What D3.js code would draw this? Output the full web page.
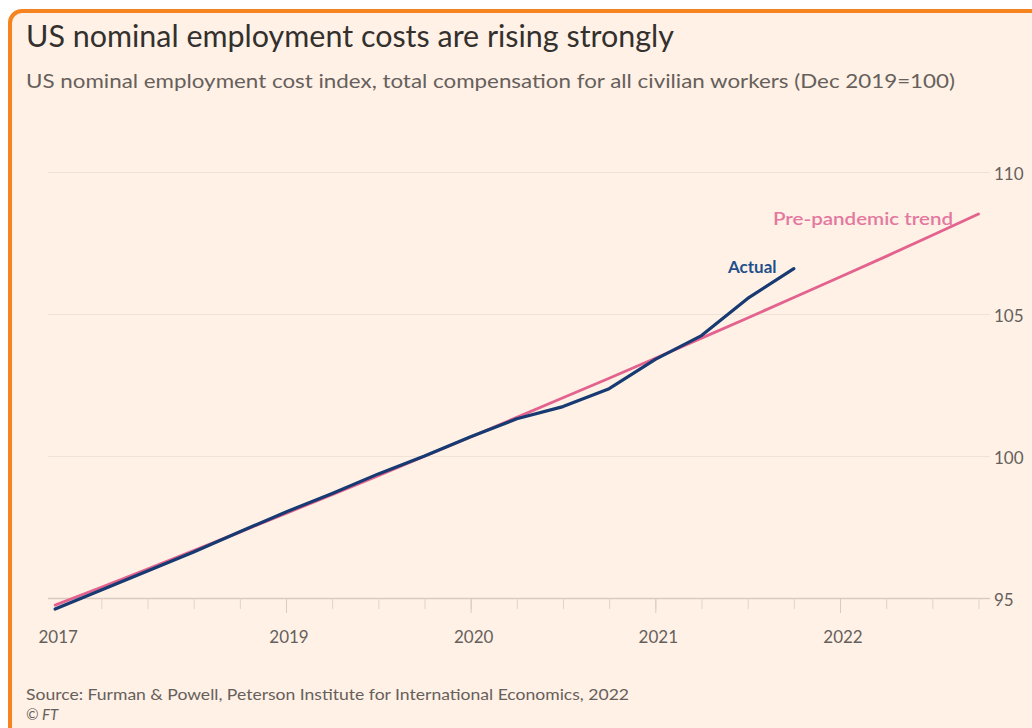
<!DOCTYPE html>
<html>
<head>
<meta charset="utf-8">
<script src="https://cdn.jsdelivr.net/npm/d3@7"></script>
<style>
  body { margin: 0; background: #fff; }
  svg { display: block; }
</style>
</head>
<body>
<div id="chart"></div>
<script>
// quarterly data, Q4 2017 .. Q4 2022 (decimal year = start of quarter)
const quarters = [2017.75, 2018, 2018.25, 2018.5, 2018.75, 2019, 2019.25, 2019.5, 2019.75,
  2020, 2020.25, 2020.5, 2020.75, 2021, 2021.25, 2021.5, 2021.75,
  2022, 2022.25, 2022.5, 2022.75];

const actual = [94.61, 95.28, 95.95, 96.62, 97.33, 98.03, 98.68, 99.37, 100.0,
  100.68, 101.31, 101.74, 102.37, 103.4, 104.24, 105.55, 106.6];

const trend = [94.75, 95.38, 96.02, 96.67, 97.32, 97.98, 98.64, 99.31, 99.99,
  100.67, 101.36, 102.05, 102.74, 103.44, 104.15, 104.86, 105.58,
  106.3, 107.03, 107.77, 108.52];

const yTicks = [95, 100, 105, 110];
const yearTicks = [2019, 2020, 2021, 2022];
const xLabelPos = [2017.75, 2019, 2020, 2021, 2022];
const xLabels = ["2017", "2019", "2020", "2021", "2022"];

const W = 1032, H = 728;
const font = "Lato, 'Open Sans', sans-serif";

const svg = d3.select("#chart").append("svg")
  .attr("width", W)
  .attr("height", H);

// card with orange outline
svg.append("rect")
  .attr("x", 10).attr("y", 11)
  .attr("width", 1060).attr("height", 760)
  .attr("rx", 12).attr("ry", 12)
  .attr("fill", "#fff1e5")
  .attr("stroke", "#f5831f")
  .attr("stroke-width", 4);

let x = d3.scaleLinear().domain([2019, 2022]).range([286, 840]);
let y = d3.scaleLinear().domain([95, 110]).range([598, 172]);

const gridLeft = 48, gridRight = 990;

// gridlines + right labels
const yAxis = svg.append("g")
  .attr("transform", "translate(" + gridRight + ",0)")
  .call(d3.axisRight(y).tickValues(yTicks).tickSize(-(gridRight - gridLeft)).tickPadding(4));
yAxis.select(".domain").remove();
yAxis.selectAll(".tick line")
  .attr("stroke", function (d) { return d === 95 ? "#d8cbbf" : "#f0e2d5"; })
  .attr("stroke-width", function (d) { return d === 95 ? 1.5 : 1; });
yAxis.selectAll(".tick text")
  .attr("fill", "#66605c")
  .attr("dy", "0.45em")
  .style("font-family", font)
  .style("font-size", "17px");

// quarterly ticks
const quarterTicks = quarters.slice(1);
const xAxis = svg.append("g")
  .attr("transform", "translate(0,598)")
  .call(d3.axisBottom(x).tickValues(quarterTicks).tickSize(11).tickFormat(""));
xAxis.select(".domain").remove();
xAxis.selectAll(".tick line").attr("stroke", "#e0d3c7");

// taller year ticks
const xAxis2 = svg.append("g")
  .attr("transform", "translate(0,598)")
  .call(d3.axisBottom(x).tickValues(yearTicks).tickSize(15).tickFormat(""));
xAxis2.select(".domain").remove();
xAxis2.selectAll(".tick line").attr("stroke", "#d8cbbf");

// year labels
svg.append("g").selectAll("text")
  .data(xLabels)
  .enter()
  .append("text")
  .attr("x", function (d, i) { return x(xLabelPos[i]) + 3; })
  .attr("y", 643)
  .attr("text-anchor", "middle")
  .attr("fill", "#66605c")
  .style("font-family", font)
  .style("font-size", "17px")
  .text(function (d) { return d; });

// lines
const line = d3.line()
  .x(function (d) { return x(d.q); })
  .y(function (d) { return y(d.v); });

svg.append("path")
  .datum(trend.map(function (v, i) { return { q: quarters[i], v: v }; }))
  .attr("fill", "none")
  .attr("stroke", "#e3628e")
  .attr("stroke-width", 2.8)
  .attr("stroke-linecap", "round")
  .attr("stroke-linejoin", "round")
  .attr("d", line);

svg.append("path")
  .datum(actual.map(function (v, i) { return { q: quarters[i], v: v }; }))
  .attr("fill", "none")
  .attr("stroke", "#173a72")
  .attr("stroke-width", 3.2)
  .attr("stroke-linecap", "round")
  .attr("stroke-linejoin", "round")
  .attr("d", line);

// line labels
svg.append("text")
  .attr("x", 728).attr("y", 273)
  .attr("fill", "#1f4f8c")
  .style("font-family", font)
  .style("font-size", "17px")
  .style("font-weight", "700")
  .text("Actual");

svg.append("text")
  .attr("x", 773).attr("y", 225)
  .attr("fill", "#e478a0")
  .attr("textLength", 180)
  .attr("lengthAdjust", "spacingAndGlyphs")
  .style("font-family", font)
  .style("font-size", "17px")
  .style("font-weight", "600")
  .text("Pre-pandemic trend");

// titles
svg.append("text")
  .attr("x", 26).attr("y", 47)
  .attr("fill", "#33302e")
  .attr("textLength", 648)
  .attr("lengthAdjust", "spacingAndGlyphs")
  .style("font-family", font)
  .style("font-size", "30px")
  .text("US nominal employment costs are rising strongly");

svg.append("text")
  .attr("x", 26).attr("y", 88)
  .attr("fill", "#66605c")
  .attr("textLength", 929)
  .attr("lengthAdjust", "spacingAndGlyphs")
  .style("font-family", font)
  .style("font-size", "19px")
  .text("US nominal employment cost index, total compensation for all civilian workers (Dec 2019=100)");

// footer
svg.append("text")
  .attr("x", 26).attr("y", 700)
  .attr("fill", "#66605c")
  .attr("textLength", 603)
  .attr("lengthAdjust", "spacingAndGlyphs")
  .style("font-family", font)
  .style("font-size", "15px")
  .text("Source: Furman & Powell, Peterson Institute for International Economics, 2022");

svg.append("text")
  .attr("x", 26).attr("y", 720)
  .attr("fill", "#66605c")
  .style("font-family", font)
  .style("font-size", "15px")
  .style("font-style", "italic")
  .text("© FT");
</script>
</body>
</html>
